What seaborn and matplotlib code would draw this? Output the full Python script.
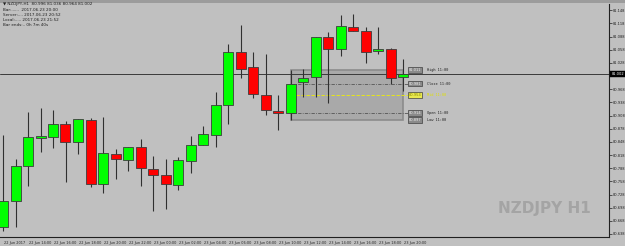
import matplotlib
matplotlib.use("Agg")
import matplotlib.pyplot as plt
import seaborn as sns
import numpy as np
import pandas as pd
from matplotlib.patches import Rectangle
from matplotlib.transforms import ScaledTranslation

# ---------------- data ----------------
opens = [80.655, 80.714, 80.794, 80.856, 80.860, 80.889, 80.847, 80.898, 80.751, 80.820,
         80.806, 80.836, 80.785, 80.773, 80.749, 80.805, 80.840, 80.864, 80.931, 81.053,
         81.018, 80.955, 80.919, 80.914, 80.984, 80.995, 81.088, 81.059, 81.109, 81.101,
         81.056, 81.059, 80.996]
highs = [80.864, 80.808, 80.917, 80.925, 80.921, 80.896, 80.900, 80.903, 80.905, 80.831,
         80.837, 80.854, 80.816, 80.810, 80.813, 80.861, 80.885, 80.962, 81.070, 81.114,
         81.053, 81.048, 80.955, 81.011, 81.014, 81.086, 81.098, 81.138, 81.140, 81.110,
         81.109, 81.063, 81.036]
lows = [80.645, 80.653, 80.747, 80.826, 80.833, 80.757, 80.820, 80.746, 80.731, 80.763,
        80.782, 80.747, 80.691, 80.696, 80.738, 80.776, 80.840, 80.837, 80.889, 80.994,
        80.949, 80.909, 80.875, 80.897, 80.951, 80.950, 80.936, 81.044, 81.101, 81.028,
        81.048, 80.979, 80.964]
closes = [80.714, 80.793, 80.858, 80.861, 80.888, 80.848, 80.899, 80.752, 80.822, 80.808,
          80.836, 80.788, 80.772, 80.751, 80.806, 80.840, 80.866, 80.932, 81.052, 81.015,
          80.957, 80.920, 80.913, 80.981, 80.994, 81.086, 81.059, 81.112, 81.101, 81.053,
          81.060, 80.994, 81.002]

time_labels = ["22 Jun 2017", "22 Jun 14:00", "22 Jun 16:00", "22 Jun 18:00", "22 Jun 20:00",
               "22 Jun 22:00", "23 Jun 00:00", "23 Jun 02:00", "23 Jun 04:00", "23 Jun 06:00",
               "23 Jun 08:00", "23 Jun 10:00", "23 Jun 12:00", "23 Jun 14:00", "23 Jun 16:00",
               "23 Jun 18:00", "23 Jun 20:00"]
price_ticks = [81.148, 81.118, 81.088, 81.058, 81.028, 80.998, 80.968, 80.938, 80.908,
               80.878, 80.848, 80.818, 80.788, 80.758, 80.728, 80.698, 80.668, 80.638]
current_price = 81.002

level_names = ["High 11:00", "Close 11:00", "Mid 11:00", "Open 11:00", "Low 11:00"]
level_values = [81.011, 80.981, 80.954, 80.914, 80.897]

info_lines = ["\u25bc NZDJPY,H1  80.996 81.036 80.964 81.002",
              "Bar:......  2017.06.23 20:00",
              "Server:.... 2017.06.23 20:52",
              "Local:..... 2017.06.23 21:52",
              "Bar ends:.. 0h 7m 40s"]
watermark = "NZDJPY H1"

# ---------------- style ----------------
sns.set_style("white")
plt.rcParams['font.family'] = ['DejaVu Sans']
BG = "#c0c0c0"

df = pd.DataFrame({"open": opens, "high": highs, "low": lows, "close": closes})
df["idx"] = np.arange(len(df))
df["bull"] = df["close"] >= df["open"]

W, H = 625, 246
fig = plt.figure(figsize=(W / 100, H / 100), dpi=100, facecolor=BG)
fig.patches.append(Rectangle((0, (H - 3) / H), 1, 3 / H, transform=fig.transFigure,
                             facecolor="#9c9c9c", edgecolor="none", zorder=0))

ax = fig.add_axes([0, (H - 237) / H, 609 / W, (237 - 4) / H])
ax.set_facecolor(BG)

px_per_unit = 438.7
y_top = current_price + (74.3 - 4) / px_per_unit
y_bot = current_price - (237 - 74.3) / px_per_unit
ax.set_ylim(y_bot, y_top)
ax.set_xlim(-0.24, 48.48)

# gray range box for 11:00 candle
box_i0, box_i1 = 23, 32
ax.add_patch(Rectangle((box_i0, level_values[4]), box_i1 - box_i0,
                       level_values[0] - level_values[4],
                       facecolor="#a9a9a9", edgecolor="#8c8c8c", lw=1.2, zorder=1))
ax.hlines([level_values[1], level_values[3]], box_i0, 32.4, colors="#555555",
          linestyles=(0, (4, 1.5, 1, 1.5)), lw=0.6, zorder=2)
ax.hlines(level_values[2], box_i0, 32.4, colors="#f0f000", linestyles=(0, (4, 2)),
          lw=0.6, zorder=2)

# current price line
ax.axhline(current_price, color="#3a3a3a", lw=0.7, zorder=2)

# wicks
ax.vlines(df["idx"], df["low"], df["high"], colors="#303030", lw=0.8, zorder=3)
# bodies
body_bottom = np.minimum(df["open"], df["close"])
body_h = np.maximum(np.abs(df["close"] - df["open"]), 0.0012)
colors = np.where(df["bull"], "#00ff00", "#ff0000")
ax.bar(df["idx"], body_h, bottom=body_bottom, width=0.8, color=colors,
       edgecolor="#3c3c3c", lw=0.6, zorder=4)

# level labels
for name, val in zip(level_names, level_values):
    is_mid = name.startswith("Mid")
    ax.text(32.45, val, f"{val:.3f}", fontsize=2.6, va="center", ha="left",
            color="#8a8a00" if is_mid else "#f0f0f0", zorder=6,
            bbox=dict(boxstyle="square,pad=0.25", fc="#e8e850" if is_mid else "#8a8a8a",
                      ec="#404040", lw=0.5))
    ax.text(33.95, val, name, fontsize=2.6, va="center", ha="left",
            family="DejaVu Sans Mono",
            color="#e0e000" if is_mid else "#202020", zorder=6)

# axes / ticks
for s in ["top", "left"]:
    ax.spines[s].set_visible(False)
for s in ["right", "bottom"]:
    ax.spines[s].set_color("#202020")
    ax.spines[s].set_linewidth(0.8)
ax.yaxis.tick_right()
ax.set_yticks(price_ticks)
# the tick hidden behind the current-price tag keeps its mark but not its text
ax.set_yticklabels(["" if abs(p - current_price) < 0.01 else f"{p:.3f}" for p in price_ticks])
ax.tick_params(axis="y", length=2, width=0.5, pad=1, labelsize=2.6, colors="#202020")
xt = np.arange(0, len(opens), 2)
ax.set_xticks(xt)
ax.set_xticklabels(time_labels, ha="left")
ax.tick_params(axis="x", length=2, width=0.5, pad=1.2, labelsize=2.5, colors="#202020")
off = ScaledTranslation(1 / 100, 0, fig.dpi_scale_trans)
for lab in ax.get_xticklabels():
    lab.set_transform(lab.get_transform() + off)

# current price tag
ax.text(1.004, current_price, f"{current_price:.3f}", transform=ax.get_yaxis_transform(),
        fontsize=2.6, va="center", ha="left", color="white", zorder=10, clip_on=False,
        bbox=dict(boxstyle="square,pad=0.3", fc="black", ec="black", lw=0.3))

# info text
for k, line in enumerate(info_lines):
    fig.text(3 / W, 1 - (4.5 + 5.1 * k) / H, line, fontsize=3.0, va="center", ha="left",
             color="#202020", family=["DejaVu Sans"])

# watermark
fig.text(591 / W, 1 - 208 / H, watermark, fontsize=11, fontweight="bold", color="#a4a4a4",
         ha="right", va="center", family=["DejaVu Sans"])

fig.savefig("out.png", dpi=100, facecolor=BG)
